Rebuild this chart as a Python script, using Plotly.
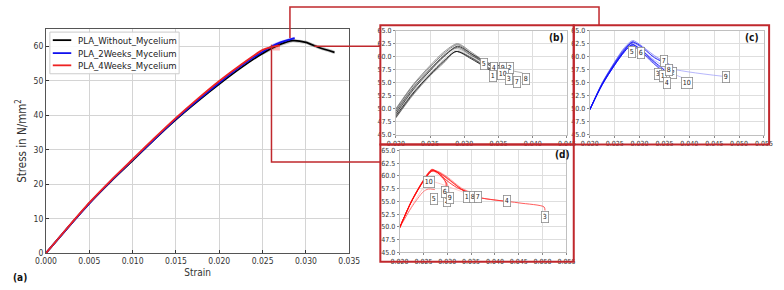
import plotly.graph_objects as go

# ---------------- main plot data ----------------
BLACK_STRAIN = [0, 0.0025, 0.005, 0.0075, 0.010, 0.0125, 0.015, 0.0175, 0.020, 0.0225, 0.025, 0.027, 0.0285, 0.030, 0.0315, 0.0333]
BLACK_STRESS = [0, 7.3, 14.4, 20.8, 26.8, 32.9, 38.7, 44.0, 49.0, 53.7, 57.9, 60.5, 61.6, 61.1, 59.6, 58.2]
BLUE_STRAIN = [0, 0.0025, 0.005, 0.0075, 0.010, 0.0125, 0.015, 0.0175, 0.020, 0.0225, 0.025, 0.027, 0.0287]
BLUE_STRESS = [0, 7.3, 14.4, 20.9, 27.0, 33.0, 38.9, 44.3, 49.4, 54.2, 58.4, 61.0, 62.3]
RED_STRAIN = [0, 0.0025, 0.005, 0.0075, 0.010, 0.0125, 0.015, 0.0175, 0.020, 0.0225, 0.025, 0.026, 0.027]
RED_STRESS = [0, 7.4, 14.6, 21.1, 27.2, 33.3, 39.2, 44.7, 49.9, 54.6, 58.9, 59.7, 60.2]
SERIES_NAMES = ["PLA_Without_Mycelium", "PLA_2Weeks_Mycelium", "PLA_4Weeks_Mycelium"]

BLACK_BAND_STRAIN = [0.025, 0.027, 0.0285, 0.030, 0.0315, 0.0333]
BLACK_BAND_UPPER = [58.4, 61.0, 62.1, 61.6, 60.1, 58.7]
BLACK_BAND_LOWER = [57.4, 60.0, 61.1, 60.6, 59.1, 57.7]
BLUE_BAND_STRAIN = [0.026, 0.027, 0.0287]
BLUE_BAND_UPPER = [60.5, 61.5, 62.7]
BLUE_BAND_LOWER = [59.5, 60.5, 61.7]
RED_BAND_STRAIN = [0.0262, 0.0270]
RED_BAND_UPPER = [60.5, 60.5]
RED_BAND_LOWER = [58.7, 58.7]

# ---------------- inset (b): without mycelium ----------------
B_STRAIN = [
    [0.020, 0.0225, 0.025, 0.027, 0.0288, 0.031, 0.0340],
    [0.020, 0.0225, 0.025, 0.027, 0.0290, 0.031, 0.0335, 0.0365],
    [0.020, 0.0225, 0.025, 0.027, 0.0288, 0.031, 0.0335, 0.0362],
    [0.020, 0.0225, 0.025, 0.027, 0.0290, 0.031, 0.0343],
    [0.020, 0.0225, 0.025, 0.027, 0.0290, 0.031, 0.0330],
    [0.020, 0.0225, 0.025, 0.027, 0.0290, 0.031, 0.0345],
    [0.020, 0.0225, 0.025, 0.027, 0.0288, 0.031, 0.0340, 0.0372],
    [0.020, 0.0225, 0.025, 0.027, 0.0288, 0.031, 0.0335, 0.0385],
    [0.020, 0.0225, 0.025, 0.027, 0.0290, 0.031, 0.0335, 0.0355],
    [0.020, 0.0225, 0.025, 0.027, 0.0288, 0.031, 0.0335, 0.0352],
]
B_STRESS = [
    [48.6, 53.0, 56.6, 59.2, 61.0, 59.6, 57.2],
    [49.0, 53.6, 57.3, 60.0, 62.0, 60.6, 58.8, 57.9],
    [48.3, 52.8, 56.5, 59.0, 61.0, 59.8, 57.8, 56.8],
    [49.5, 54.0, 57.6, 60.2, 61.8, 60.3, 57.9],
    [49.8, 54.4, 58.0, 60.6, 62.3, 60.6, 58.6],
    [50.0, 54.6, 58.3, 60.9, 62.5, 60.9, 57.6],
    [48.2, 52.6, 56.3, 58.8, 61.0, 59.9, 57.6, 56.5],
    [49.2, 53.8, 57.4, 60.0, 61.6, 60.2, 58.4, 56.9],
    [49.4, 54.0, 57.6, 60.3, 62.0, 60.5, 58.7, 57.8],
    [48.8, 53.3, 56.9, 59.5, 61.3, 59.9, 58.0, 57.2],
]
B_COLORS = ["#000000", "#1e1e1e", "#3a3a3a", "#4e4e4e", "#606060", "#747474", "#888888", "#9c9c9c", "#b0b0b0", "#c4c4c4"]
B_LABELS = ["5", "4", "9", "2", "1", "10", "3", "7", "8"]
B_LABEL_X = [0.0329, 0.0344, 0.0357, 0.0367, 0.0342, 0.0356, 0.0366, 0.0377, 0.0390]
B_LABEL_Y = [58.6, 57.9, 57.9, 57.8, 56.3, 56.7, 55.7, 55.2, 55.8]

# ---------------- inset (c): 2 weeks mycelium ----------------
C_STRAIN = [
    [0.020, 0.0225, 0.025, 0.027, 0.0285, 0.030, 0.033, 0.0350],
    [0.020, 0.0225, 0.025, 0.027, 0.0285, 0.030, 0.033, 0.0355, 0.0372],
    [0.020, 0.0225, 0.025, 0.027, 0.0283, 0.030, 0.032, 0.0340],
    [0.020, 0.0225, 0.025, 0.027, 0.0283, 0.030, 0.033, 0.0355],
    [0.020, 0.0225, 0.025, 0.027, 0.0288],
    [0.020, 0.0225, 0.025, 0.027, 0.0285, 0.0302],
    [0.020, 0.0225, 0.025, 0.027, 0.0286, 0.030, 0.033, 0.0360],
    [0.020, 0.0225, 0.025, 0.027, 0.0285, 0.030, 0.033, 0.0368],
    [0.020, 0.0225, 0.025, 0.027, 0.0285, 0.030, 0.033, 0.0360, 0.0470],
    [0.020, 0.0225, 0.025, 0.027, 0.0284, 0.030, 0.033, 0.0355, 0.0385],
]
C_STRESS = [
    [49.8, 54.6, 58.4, 61.0, 62.3, 61.6, 59.0, 57.4],
    [49.8, 54.8, 58.7, 61.3, 62.8, 62.2, 59.8, 58.6, 57.7],
    [49.8, 54.7, 58.5, 61.2, 62.5, 61.4, 59.4, 57.7],
    [49.8, 54.6, 58.4, 61.0, 62.2, 61.2, 58.8, 56.3],
    [49.8, 54.9, 58.9, 61.6, 63.0],
    [49.8, 54.8, 58.7, 61.4, 62.7, 61.9],
    [49.8, 55.0, 59.0, 61.8, 63.1, 62.4, 60.2, 58.5],
    [49.8, 54.9, 58.8, 61.5, 62.9, 62.2, 59.9, 58.2],
    [49.8, 54.7, 58.5, 61.1, 62.4, 61.7, 59.3, 57.8, 56.2],
    [49.8, 54.6, 58.4, 61.0, 62.2, 61.3, 59.0, 57.3, 56.0],
]
C_COLORS = ["#0000ff", "#1010f6", "#2222f0", "#3838f0", "#4c4cf2", "#6262f4", "#7676f6", "#8a8af8", "#a0a0fa", "#b4b4fc"]
C_LABELS = ["5", "6", "7", "3", "2", "1", "8", "4", "10", "9"]
C_LABEL_X = [0.0284, 0.0302, 0.0349, 0.0337, 0.0368, 0.0347, 0.0359, 0.0355, 0.0396, 0.0474]
C_LABEL_Y = [60.95, 60.7, 59.1, 56.7, 56.8, 56.3, 57.4, 55.0, 55.0, 56.0]

# ---------------- inset (d): 4 weeks mycelium ----------------
D_STRAIN = [
    [0.020, 0.0225, 0.025, 0.0268, 0.028, 0.030, 0.032, 0.0345],
    [0.020, 0.0225, 0.025, 0.0268, 0.0285, 0.0298, 0.0300],
    [0.020, 0.0225, 0.025, 0.0268, 0.028, 0.030, 0.033, 0.036, 0.045, 0.0503, 0.0505],
    [0.020, 0.0225, 0.025, 0.0268, 0.028, 0.030, 0.033, 0.036, 0.0425],
    [0.020, 0.0225, 0.025, 0.0260, 0.0274],
    [0.020, 0.0225, 0.025, 0.0268, 0.028, 0.0295, 0.0298],
    [0.020, 0.0225, 0.025, 0.0268, 0.028, 0.030, 0.033, 0.0362],
    [0.020, 0.0225, 0.025, 0.0268, 0.028, 0.030, 0.033, 0.0355],
    [0.020, 0.0225, 0.025, 0.0268, 0.028, 0.030, 0.0305],
    [0.020, 0.0225, 0.025, 0.0262, 0.028, 0.031, 0.0340],
]
D_STRESS = [
    [49.8, 55.0, 59.0, 61.0, 60.6, 59.0, 57.7, 56.8],
    [49.8, 55.0, 59.1, 61.2, 60.2, 58.6, 56.0],
    [49.8, 54.9, 58.9, 60.9, 60.7, 59.5, 57.4, 55.9, 54.7, 53.9, 53.2],
    [49.8, 55.0, 59.0, 61.1, 60.8, 59.6, 57.3, 55.9, 55.0],
    [49.8, 53.8, 56.9, 57.4, 57.3],
    [49.8, 55.1, 59.2, 61.3, 60.6, 59.0, 57.5],
    [49.8, 55.0, 59.0, 61.0, 60.9, 59.8, 57.6, 56.3],
    [49.8, 55.1, 59.1, 61.2, 60.8, 59.4, 57.4, 56.4],
    [49.8, 55.0, 59.0, 61.0, 60.3, 58.5, 56.0],
    [49.8, 54.0, 57.7, 58.9, 58.6, 57.6, 56.6],
]
D_COLORS = ["#ff0000", "#ff1414", "#ff2a2a", "#ff4040", "#ff5656", "#ff6a6a", "#ff7e7e", "#ff9292", "#ffa6a6", "#ffbaba"]
D_LABELS = ["2", "10", "5", "6", "9", "1", "8", "7", "4", "3"]
D_LABEL_X = [0.0300, 0.0262, 0.0272, 0.0296, 0.0306, 0.0342, 0.0354, 0.03635, 0.0425, 0.0504]
D_LABEL_Y = [55.1, 58.7, 55.5, 56.8, 55.6, 55.8, 55.8, 55.9, 55.1, 51.9]

# ---------------- figure ----------------
W, H = 784, 290
FONT = "DejaVu Sans Condensed, Liberation Sans, sans-serif"
RED = "#c0282d"


def fx(x):
    return x / W


def fy(y):
    return 1 - y / H


fig = go.Figure()

# bands (main)
for bx, bu, bl, col in [
    (BLACK_BAND_STRAIN, BLACK_BAND_UPPER, BLACK_BAND_LOWER, "rgba(0,0,0,0.22)"),
    (BLUE_BAND_STRAIN, BLUE_BAND_UPPER, BLUE_BAND_LOWER, "rgba(0,0,255,0.25)"),
    (RED_BAND_STRAIN, RED_BAND_UPPER, RED_BAND_LOWER, "rgba(255,60,60,0.35)"),
]:
    fig.add_trace(go.Scatter(x=bx + bx[::-1], y=bu + bl[::-1], fill="toself", fillcolor=col,
                             line=dict(width=0), mode="lines", hoverinfo="skip", showlegend=False,
                             xaxis="x", yaxis="y"))

for sx, sy, col, name in [
    (BLACK_STRAIN, BLACK_STRESS, "#000000", SERIES_NAMES[0]),
    (BLUE_STRAIN, BLUE_STRESS, "#1010ee", SERIES_NAMES[1]),
    (RED_STRAIN, RED_STRESS, "#ee2222", SERIES_NAMES[2]),
]:
    fig.add_trace(go.Scatter(x=sx, y=sy, mode="lines", name=name, line=dict(color=col, width=1.8, shape="spline", smoothing=0.6),
                             showlegend=False, xaxis="x", yaxis="y"))

annotations = []
for strains, stresses, colors, labels, lx, ly, ax in [
    (B_STRAIN, B_STRESS, B_COLORS, B_LABELS, B_LABEL_X, B_LABEL_Y, "2"),
    (C_STRAIN, C_STRESS, C_COLORS, C_LABELS, C_LABEL_X, C_LABEL_Y, "3"),
    (D_STRAIN, D_STRESS, D_COLORS, D_LABELS, D_LABEL_X, D_LABEL_Y, "4"),
]:
    for sx, sy, col in zip(strains[::-1], stresses[::-1], colors[::-1]):
        fig.add_trace(go.Scatter(x=sx, y=sy, mode="lines", line=dict(color=col, width=0.9, shape="spline", smoothing=0.8),
                                 opacity=0.85, showlegend=False, hoverinfo="skip", xaxis="x" + ax, yaxis="y" + ax))
    for t, x, y in zip(labels, lx, ly):
        annotations.append(dict(text=t, x=x, y=y, xref="x" + ax, yref="y" + ax, showarrow=False,
                                bgcolor="white", bordercolor="#8c8c8c", borderwidth=0.8, borderpad=1,
                                font=dict(size=7, family=FONT, color="#222")))

main_axis = dict(showgrid=True, gridcolor="#d4d4d4", gridwidth=1, zeroline=False, showline=True, linecolor="#555",
                 linewidth=1, mirror=True, ticks="inside", ticklen=3, tickcolor="#333",
                 tickfont=dict(size=8.5, family=FONT, color="#333"))
inset_axis = dict(showgrid=True, gridcolor="#dedede", gridwidth=1, zeroline=False, showline=True, linecolor="#c0c0c0",
                  linewidth=1, mirror=True, ticks="outside", ticklen=2, tickcolor="#888",
                  tickfont=dict(size=7, family=FONT, color="#333"))

ins_y = [fy(134.8), fy(27.6)]
layout = dict(
    width=W, height=H, margin=dict(l=0, r=0, t=0, b=0), plot_bgcolor="white", paper_bgcolor="white",
    showlegend=False,
    xaxis=dict(main_axis, domain=[fx(36), fx(348)], range=[0, 0.035], dtick=0.005, tickformat=".3f",
               title=dict(text="Strain", font=dict(size=10, family=FONT, color="#333"), standoff=3), anchor="y"),
    yaxis=dict(main_axis, domain=[fy(257), fy(25.7)], range=[0, 65], dtick=10,
               title=dict(text="Stress in N/mm<sup>2</sup>", font=dict(size=11.5, family=FONT, color="#333"), standoff=4), anchor="x"),
    xaxis2=dict(inset_axis, domain=[fx(396), fx(572)], range=[0.020, 0.045], dtick=0.005, tickformat=".3f", anchor="y2"),
    yaxis2=dict(inset_axis, domain=ins_y, range=[45, 65], dtick=2.5, tickformat=".1f", anchor="x2"),
    xaxis3=dict(inset_axis, domain=[fx(595.5), fx(774.7)], range=[0.020, 0.055], dtick=0.005, tickformat=".3f", anchor="y3"),
    yaxis3=dict(inset_axis, domain=ins_y, range=[45, 65], dtick=2.5, tickformat=".1f", anchor="x3"),
    xaxis4=dict(inset_axis, domain=[fx(399.8), fx(571.5)], range=[0.020, 0.055], dtick=0.005, tickformat=".3f", anchor="y4"),
    yaxis4=dict(inset_axis, domain=[fy(256.3), fy(151)], range=[45, 65], dtick=2.5, tickformat=".1f", anchor="x4"),
)
fig.update_layout(**layout)

shapes = []
# inset frames
for x0, y0, x1, y1 in [(380, 22, 579, 145), (579, 22, 780, 145), (380, 145, 579, 266)]:
    shapes.append(dict(type="rect", xref="paper", yref="paper", x0=fx(x0), y0=fy(y1), x1=fx(x1), y1=fy(y0),
                       line=dict(color=RED, width=2)))
# connectors
for pts in [[(287, 35), (287, 3), (605, 3), (605, 22)],
            [(312, 43.5), (380, 43.5)],
            [(268, 42), (268, 163), (380, 163)]]:
    path = "M " + " L ".join(f"{fx(a):.5f},{fy(b):.5f}" for a, b in pts)
    shapes.append(dict(type="path", xref="paper", yref="paper", path=path, line=dict(color=RED, width=1.5)))

# legend box
shapes.append(dict(type="rect", xref="paper", yref="paper", x0=fx(40), y0=fy(72), x1=fx(173), y1=fy(29),
                   line=dict(color="#cccccc", width=1), fillcolor="rgba(255,255,255,0.9)"))
for name, col, yy in zip(SERIES_NAMES, ["#000000", "#1010ee", "#ee2222"], [37.3, 50.7, 63.3]):
    shapes.append(dict(type="line", xref="paper", yref="paper", x0=fx(43), x1=fx(62), y0=fy(yy), y1=fy(yy),
                       line=dict(color=col, width=1.8)))
    annotations.append(dict(text=name, xref="paper", yref="paper", x=fx(67), y=fy(yy), xanchor="left", yanchor="middle",
                            showarrow=False, font=dict(size=9.5, family=FONT, color="#222")))

# panel labels
for t, x, y in [("(a)", 0, 282), ("(b)", 571, 35), ("(c)", 772, 35), ("(d)", 577, 155)]:
    annotations.append(dict(text=f"<b>{t}</b>", xref="paper", yref="paper", x=fx(x), y=fy(y),
                            xanchor="left" if t == "(a)" else "right", yanchor="middle", showarrow=False,
                            font=dict(size=10, family=FONT, color="#111")))

fig.update_layout(shapes=shapes, annotations=annotations)
fig.write_html("out.html")
